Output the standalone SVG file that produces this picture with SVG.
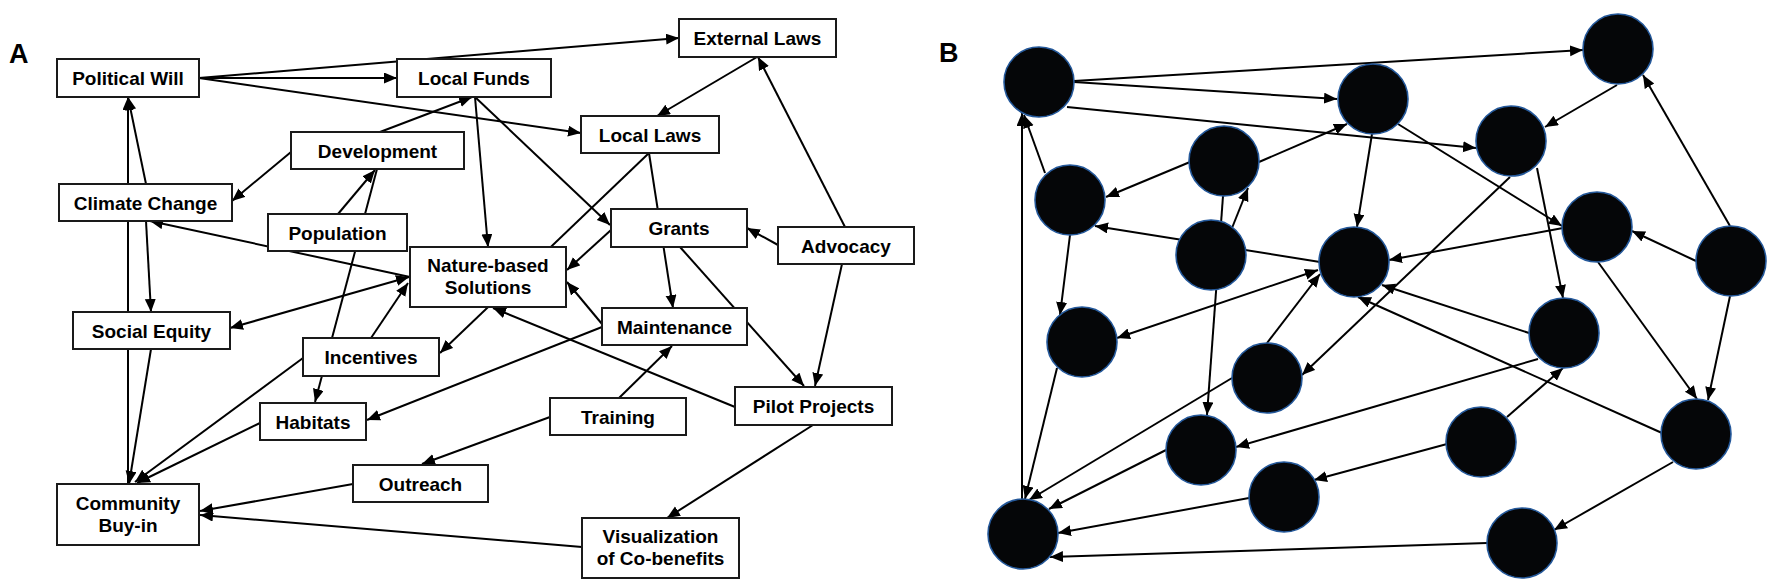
<svg xmlns="http://www.w3.org/2000/svg" width="1772" height="586" viewBox="0 0 1772 586">
<style>
.bg{fill:#fff}
.box{fill:#fff;stroke:#1a1a1a;stroke-width:2}
.lbl{font-family:"Liberation Sans",Arial,sans-serif;font-weight:bold;font-size:19px;fill:#000;text-anchor:middle}
.panel{font-family:"Liberation Sans",Arial,sans-serif;font-weight:bold;font-size:27px;fill:#000}
.e{stroke:#000;stroke-width:2;fill:none;marker-end:url(#ah)}
.eb{stroke:#000;stroke-width:2;fill:none;marker-end:url(#ah);marker-start:url(#ah)}
.n{fill:#050608;stroke:#24589a;stroke-width:1.6}
</style>
<defs>
<marker id="ah" markerUnits="userSpaceOnUse" markerWidth="14" markerHeight="12" refX="13" refY="5.5" orient="auto-start-reverse">
<path d="M0,0 L13,5.5 L0,11 z" fill="#000"/>
</marker>
</defs>
<rect class="bg" x="0" y="0" width="1772" height="586"/>
<text class="panel" x="9" y="63">A</text>
<text class="panel" x="939" y="62">B</text>

<g id="connectors-A">
<line class="e" x1="199" y1="78" x2="397" y2="78"/>
<line class="e" x1="199" y1="78" x2="679" y2="38"/>
<line class="e" x1="199" y1="78" x2="581" y2="133"/>
<line class="e" x1="380" y1="132" x2="472" y2="97"/>
<line class="e" x1="291" y1="152" x2="232" y2="201"/>
<line class="e" x1="146" y1="184" x2="128" y2="97"/>
<line class="e" x1="128" y1="484" x2="128" y2="97"/>
<line class="e" x1="146" y1="221" x2="151" y2="312"/>
<line class="e" x1="151" y1="349" x2="129" y2="484"/>
<line class="e" x1="410" y1="277" x2="150" y2="221"/>
<line class="e" x1="371" y1="338" x2="408" y2="283"/>
<line class="eb" x1="230" y1="328" x2="409" y2="277"/>
<line class="e" x1="649" y1="153" x2="440" y2="353"/>
<line class="e" x1="735" y1="407" x2="493" y2="308"/>
<line class="e" x1="602" y1="324" x2="567" y2="282"/>
<line class="e" x1="611" y1="230" x2="567" y2="270"/>
<line class="e" x1="649" y1="153" x2="673" y2="308"/>
<line class="e" x1="778" y1="245" x2="747" y2="228"/>
<line class="e" x1="845" y1="227" x2="758" y2="57"/>
<line class="e" x1="842" y1="264" x2="815" y2="386"/>
<line class="e" x1="757" y1="57" x2="657" y2="116"/>
<line class="e" x1="813" y1="425" x2="667" y2="518"/>
<line class="e" x1="582" y1="547" x2="200" y2="515"/>
<line class="e" x1="353" y1="484" x2="200" y2="511"/>
<line class="e" x1="550" y1="417" x2="422" y2="464"/>
<line class="e" x1="619" y1="398" x2="672" y2="346"/>
<line class="e" x1="602" y1="327" x2="367" y2="420"/>
<line class="e" x1="338" y1="214" x2="375" y2="170"/>
<line class="e" x1="377" y1="169" x2="315" y2="402"/>
<line class="e" x1="303" y1="358" x2="135" y2="482"/>
<line class="e" x1="260" y1="423" x2="137" y2="483"/>
<line class="e" x1="475" y1="97" x2="488" y2="247"/>
<line class="e" x1="475" y1="97" x2="610" y2="225"/>
<line class="e" x1="680" y1="247" x2="804" y2="386"/>
</g>

<g id="n-political-will"><rect class="box" x="57" y="59" width="142" height="38"/><text class="lbl" x="128" y="85">Political Will</text></g>
<g id="n-local-funds"><rect class="box" x="397" y="59" width="154" height="38"/><text class="lbl" x="474" y="85">Local Funds</text></g>
<g id="n-external-laws"><rect class="box" x="679" y="19" width="157" height="38"/><text class="lbl" x="757.5" y="45">External Laws</text></g>
<g id="n-local-laws"><rect class="box" x="581" y="116" width="138" height="37"/><text class="lbl" x="650" y="141.5">Local Laws</text></g>
<g id="n-development"><rect class="box" x="291" y="132" width="173" height="37"/><text class="lbl" x="377.5" y="157.5">Development</text></g>
<g id="n-climate-change"><rect class="box" x="59" y="184" width="173" height="37"/><text class="lbl" x="145.5" y="209.5">Climate Change</text></g>
<g id="n-population"><rect class="box" x="268" y="214" width="139" height="37"/><text class="lbl" x="337.5" y="239.5">Population</text></g>
<g id="n-nature-based-solutions"><rect class="box" x="410" y="247" width="156" height="60"/><text class="lbl" x="488" y="272">Nature-based</text><text class="lbl" x="488" y="294">Solutions</text></g>
<g id="n-grants"><rect class="box" x="611" y="209" width="136" height="38"/><text class="lbl" x="679" y="235">Grants</text></g>
<g id="n-advocacy"><rect class="box" x="778" y="227" width="136" height="37"/><text class="lbl" x="846" y="252.5">Advocacy</text></g>
<g id="n-social-equity"><rect class="box" x="73" y="312" width="157" height="37"/><text class="lbl" x="151.5" y="337.5">Social Equity</text></g>
<g id="n-incentives"><rect class="box" x="303" y="338" width="136" height="38"/><text class="lbl" x="371" y="364">Incentives</text></g>
<g id="n-maintenance"><rect class="box" x="602" y="308" width="145" height="37"/><text class="lbl" x="674.5" y="333.5">Maintenance</text></g>
<g id="n-habitats"><rect class="box" x="260" y="403" width="106" height="37"/><text class="lbl" x="313" y="428.5">Habitats</text></g>
<g id="n-pilot-projects"><rect class="box" x="735" y="387" width="157" height="38"/><text class="lbl" x="813.5" y="413">Pilot Projects</text></g>
<g id="n-training"><rect class="box" x="550" y="398" width="136" height="37"/><text class="lbl" x="618" y="423.5">Training</text></g>
<g id="n-outreach"><rect class="box" x="353" y="465" width="135" height="37"/><text class="lbl" x="420.5" y="490.5">Outreach</text></g>
<g id="n-visualization"><rect class="box" x="582" y="518" width="157" height="60"/><text class="lbl" x="660.5" y="543">Visualization</text><text class="lbl" x="660.5" y="565">of Co-benefits</text></g>
<g id="n-community-buy-in"><rect class="box" x="57" y="484" width="142" height="61"/><text class="lbl" x="128" y="510">Community</text><text class="lbl" x="128" y="532">Buy-in</text></g>

<g id="connectors-B">
<line class="e" x1="1074" y1="81" x2="1583" y2="50"/>
<line class="e" x1="1074" y1="82" x2="1337" y2="99"/>
<line class="e" x1="1067" y1="107" x2="1476" y2="148"/>
<line class="e" x1="1045" y1="173" x2="1024" y2="115"/>
<line class="e" x1="1022" y1="500" x2="1022" y2="113"/>
<line class="e" x1="1190" y1="162" x2="1106" y2="197"/>
<line class="e" x1="1259" y1="162" x2="1347" y2="124"/>
<line class="e" x1="1232" y1="228" x2="1248" y2="188"/>
<line class="e" x1="1223" y1="196" x2="1207" y2="415"/>
<line class="e" x1="1320" y1="262" x2="1095" y2="226"/>
<line class="e" x1="1070" y1="235" x2="1060" y2="315"/>
<line class="e" x1="1057" y1="368" x2="1025" y2="499"/>
<line class="eb" x1="1117" y1="338" x2="1318" y2="270"/>
<line class="e" x1="1267" y1="343" x2="1320" y2="274"/>
<line class="e" x1="1510" y1="177" x2="1302" y2="375"/>
<line class="e" x1="1537" y1="168" x2="1563" y2="298"/>
<line class="e" x1="1617" y1="85" x2="1545" y2="127"/>
<line class="e" x1="1372" y1="134" x2="1357" y2="227"/>
<line class="e" x1="1398" y1="124" x2="1562" y2="226"/>
<line class="e" x1="1563" y1="228" x2="1389" y2="260"/>
<line class="e" x1="1598" y1="262" x2="1697" y2="399"/>
<line class="e" x1="1696" y1="261" x2="1632" y2="231"/>
<line class="e" x1="1730" y1="226" x2="1643" y2="75"/>
<line class="e" x1="1730" y1="296" x2="1708" y2="400"/>
<line class="e" x1="1529" y1="333" x2="1382" y2="285"/>
<line class="e" x1="1662" y1="433" x2="1358" y2="297"/>
<line class="e" x1="1538" y1="359" x2="1236" y2="447"/>
<line class="e" x1="1507" y1="417" x2="1563" y2="368"/>
<line class="e" x1="1447" y1="444" x2="1314" y2="480"/>
<line class="e" x1="1249" y1="498" x2="1058" y2="533"/>
<line class="e" x1="1166" y1="450" x2="1049" y2="509"/>
<line class="e" x1="1232" y1="378" x2="1029" y2="500"/>
<line class="e" x1="1673" y1="462" x2="1554" y2="530"/>
<line class="e" x1="1487" y1="543" x2="1050" y2="557"/>
</g>

<g id="b1"><circle class="n" cx="1039" cy="82" r="35"/></g>
<g id="b2"><circle class="n" cx="1070" cy="200" r="35"/></g>
<g id="b3"><circle class="n" cx="1224" cy="161" r="35"/></g>
<g id="b4"><circle class="n" cx="1211" cy="255" r="35"/></g>
<g id="b5"><circle class="n" cx="1618" cy="49" r="35"/></g>
<g id="b6"><circle class="n" cx="1373" cy="99" r="35"/></g>
<g id="b7"><circle class="n" cx="1511" cy="141" r="35"/></g>
<g id="b8"><circle class="n" cx="1597" cy="227" r="35"/></g>
<g id="b9"><circle class="n" cx="1731" cy="261" r="35"/></g>
<g id="b10"><circle class="n" cx="1354" cy="262" r="35"/></g>
<g id="b11"><circle class="n" cx="1082" cy="342" r="35"/></g>
<g id="b12"><circle class="n" cx="1267" cy="378" r="35"/></g>
<g id="b13"><circle class="n" cx="1201" cy="450" r="35"/></g>
<g id="b14"><circle class="n" cx="1284" cy="497" r="35"/></g>
<g id="b15"><circle class="n" cx="1023" cy="534" r="35"/></g>
<g id="b16"><circle class="n" cx="1564" cy="333" r="35"/></g>
<g id="b17"><circle class="n" cx="1481" cy="442" r="35"/></g>
<g id="b18"><circle class="n" cx="1696" cy="434" r="35"/></g>
<g id="b19"><circle class="n" cx="1522" cy="543" r="35"/></g>
</svg>
